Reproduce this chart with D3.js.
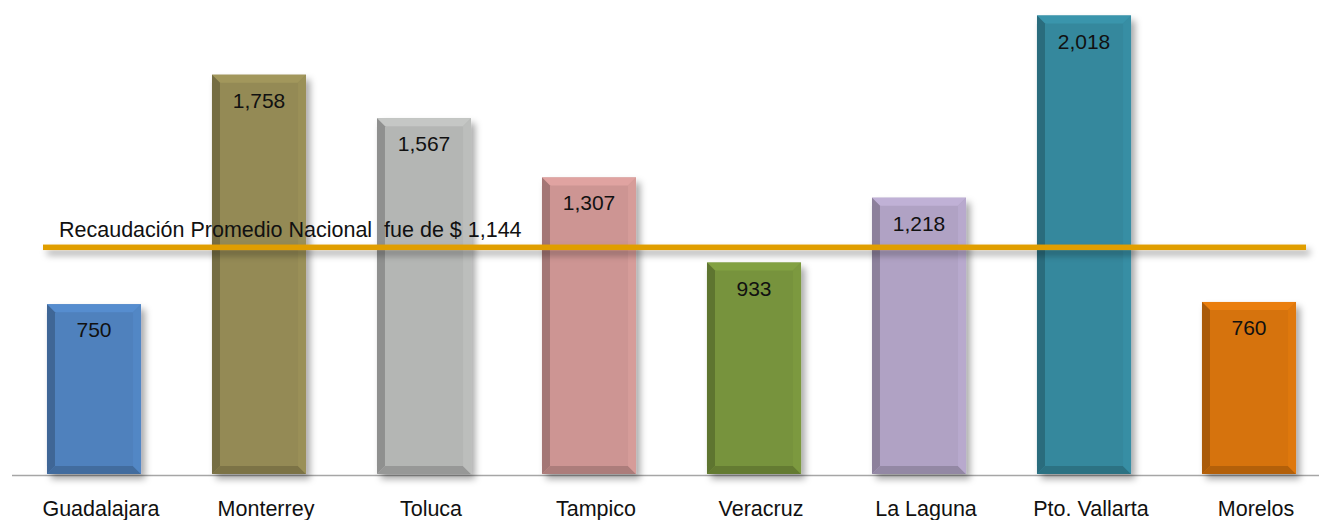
<!DOCTYPE html>
<html>
<head>
<meta charset="utf-8">
<script src="https://cdn.jsdelivr.net/npm/d3@7"></script>
<style>
  html, body { margin: 0; padding: 0; background: #fff; }
  svg { display: block; font-family: "Liberation Sans", Arial, sans-serif; }
</style>
</head>
<body>
<div id="chart"></div>
<script>
const cities = ["Guadalajara", "Monterrey", "Toluca", "Tampico", "Veracruz", "La Laguna", "Pto. Vallarta", "Morelos"];
const recaudacion = [750, 1758, 1567, 1307, 933, 1218, 2018, 760];
const barColors = ["#4F81BD", "#948A54", "#B4B6B4", "#CD9593", "#77933C", "#B0A2C4", "#35889D", "#D6730C"];
const promedioLabel = "Recaudación Promedio Nacional  fue de $ 1,144";
// the orange line sits at this level on the value axis in the original
const lineLevel = 1000;

const width = 1319, height = 520;

const svg = d3.select("#chart")
  .append("svg")
  .attr("width", width)
  .attr("height", height);

const defs = svg.append("defs");
defs.append("filter")
  .attr("id", "shadow")
  .attr("filterUnits", "userSpaceOnUse")
  .attr("x", 0).attr("y", 0)
  .attr("width", width).attr("height", height)
  .append("feDropShadow")
  .attr("dx", 4).attr("dy", 5)
  .attr("stdDeviation", 3.5)
  .attr("flood-color", "#000")
  .attr("flood-opacity", 0.35);

const x = d3.scaleBand()
  .domain(cities)
  .range([11.5, 1331.5])
  .paddingInner(0.43)
  .paddingOuter(0.215);

const y = d3.scaleLinear()
  .domain([0, 2000])
  .range([475, 19.6]);

// axis (baseline + category labels)
const axis = svg.append("g")
  .attr("transform", `translate(0,${y(0)})`)
  .call(d3.axisBottom(x).tickSize(0).tickSizeOuter(0).tickPadding(26));
axis.select(".domain").attr("stroke", "#A6A6A6").attr("stroke-width", 1.5);
axis.selectAll("text")
  .attr("font-size", 21.5)
  .attr("font-family", "Liberation Sans, Arial, sans-serif")
  .attr("fill", "#111")
  .attr("dx", 7);

const bevel = 8;
const bars = svg.selectAll(".bar")
  .data(cities.map((c, i) => ({ city: c, value: recaudacion[i], color: barColors[i] })))
  .enter()
  .append("g")
  .attr("class", "bar");

bars.each(function(d) {
  const g = d3.select(this);
  const x0 = x(d.city), x1 = x0 + x.bandwidth();
  const y0 = y(d.value), y1 = y(0) - 1;
  const base = d3.color(d.color);
  g.append("rect")
    .attr("x", x0).attr("y", y0)
    .attr("width", x1 - x0).attr("height", y1 - y0)
    .attr("fill", d.color)
    .attr("filter", "url(#shadow)");
  const faces = [
    { pts: [[x0, y0], [x1, y0], [x1 - bevel, y0 + bevel], [x0 + bevel, y0 + bevel]], fill: base.brighter(0.25) },
    { pts: [[x0, y0], [x0 + bevel, y0 + bevel], [x0 + bevel, y1 - bevel], [x0, y1]], fill: base.darker(0.65) },
    { pts: [[x0, y1], [x0 + bevel, y1 - bevel], [x1 - bevel, y1 - bevel], [x1, y1]], fill: base.darker(0.5) },
    { pts: [[x1, y0], [x1, y1], [x1 - bevel, y1 - bevel], [x1 - bevel, y0 + bevel]], fill: base.brighter(0.12) }
  ];
  g.selectAll("polygon")
    .data(faces)
    .enter()
    .append("polygon")
    .attr("points", f => f.pts.map(p => p.join(",")).join(" "))
    .attr("fill", f => f.fill);
  g.append("text")
    .attr("x", x0 + x.bandwidth() / 2)
    .attr("y", y0 + 33)
    .attr("text-anchor", "middle")
    .attr("font-size", 21)
    .attr("fill", "#111")
    .text(d3.format(",")(d.value));
});

// promedio line
svg.append("rect")
  .attr("x", 43)
  .attr("width", 1306 - 43)
  .attr("y", y(lineLevel) - 2.75)
  .attr("height", 5.5)
  .attr("fill", "#E09E00")
  .attr("filter", "url(#shadow)");

svg.append("text")
  .attr("x", 59)
  .attr("y", y(lineLevel) - 10)
  .attr("font-size", 21.5)
  .attr("fill", "#111")
  .attr("xml:space", "preserve")
  .style("white-space", "pre")
  .text(promedioLabel);
</script>
</body>
</html>
